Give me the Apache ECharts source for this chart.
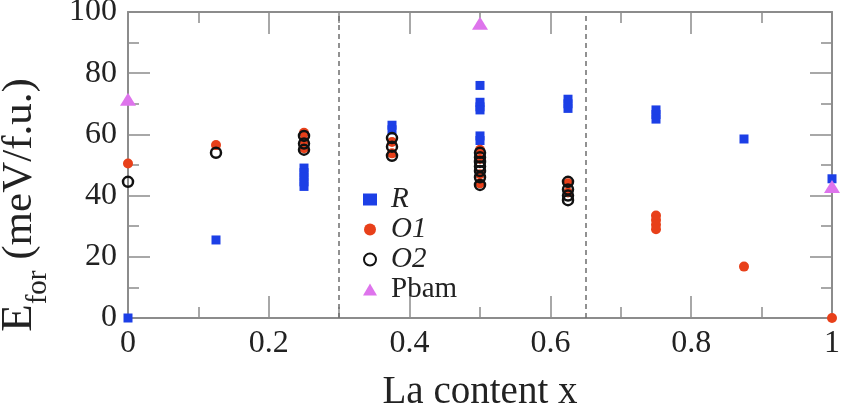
<!DOCTYPE html>
<html>
<head>
<meta charset="utf-8">
<style>
  html, body { margin: 0; padding: 0; background: #fff; }
  #chart { width: 842px; height: 412px; }
</style>
<script src="https://cdn.jsdelivr.net/npm/echarts@6/dist/echarts.min.js"></script>
</head>
<body>
<div id="chart"></div>
<script>
// Formation energies (meV per formula unit) versus La content x
const pointsR = [
  [0, 0], [0.125, 25.5],
  [0.25, 49], [0.25, 47.5], [0.25, 46], [0.25, 44.5], [0.25, 43],
  [0.375, 63], [0.375, 61.5],
  [0.5, 76], [0.5, 70.5], [0.5, 69], [0.5, 68], [0.5, 59.5], [0.5, 58],
  [0.625, 71.5], [0.625, 70], [0.625, 68.5],
  [0.75, 68], [0.75, 66.5], [0.75, 65],
  [0.875, 58.5], [1, 45.5]
];
const pointsO1 = [
  [0, 50.5], [0.125, 56.5],
  [0.25, 60.5], [0.25, 58], [0.25, 55.5],
  [0.375, 57.5], [0.375, 53.8],
  [0.5, 55], [0.5, 52], [0.5, 47], [0.5, 44],
  [0.625, 44], [0.625, 41],
  [0.75, 33.5], [0.75, 32], [0.75, 30.5], [0.75, 29],
  [0.875, 16.8], [1, 0]
];
const pointsO2 = [
  [0, 44.5], [0.125, 54],
  [0.25, 59.5], [0.25, 57], [0.25, 55],
  [0.375, 58.8], [0.375, 56], [0.375, 53],
  [0.5, 54], [0.5, 52.5], [0.5, 51], [0.5, 49.5], [0.5, 48], [0.5, 46], [0.5, 43.5],
  [0.625, 44.5], [0.625, 42], [0.625, 40], [0.625, 38.5]
];
const pointsPbam = [[0, 71.5], [0.5, 96.3], [1, 43]];
const seriesNames = ['R', 'O1', 'O2', 'Pbam'];
// phase boundaries shown as dashed verticals
const boundaries = [0.297, 0.648];

const serif = 'Liberation Serif';
const axisGray = '#8c8c8c';
const textColor = '#222';

const chart = echarts.init(document.getElementById('chart'));

function frameAxis(extra) {
  return Object.assign({
    type: 'value',
    axisLine: { show: true, onZero: false, lineStyle: { color: axisGray, width: 2 } },
    axisTick: { show: true, inside: true, length: 22, lineStyle: { color: axisGray, width: 1.5 } },
    minorTick: { show: true, splitNumber: 2, length: 11, lineStyle: { color: axisGray, width: 1.5 } },
    splitLine: { show: false },
    minorSplitLine: { show: false }
  }, extra);
}

chart.setOption({
  animation: false,
  backgroundColor: '#fff',
  grid: { left: 128, right: 10, top: 12, bottom: 94, outerBoundsMode: 'none', containLabel: false },
  xAxis: [
    frameAxis({
      min: 0, max: 1, interval: 0.2, position: 'bottom',
      axisLabel: {
        fontFamily: serif, fontSize: 32, color: textColor, margin: 10,
        formatter: v => String(Math.round(v * 10) / 10)
      },
      name: 'La content x', nameLocation: 'middle', nameGap: 55,
      nameTextStyle: { fontFamily: serif, fontSize: 39, color: textColor }
    }),
    frameAxis({
      min: 0, max: 1, interval: 0.2, position: 'top',
      axisLabel: { show: false }
    })
  ],
  yAxis: [
    frameAxis({
      min: 0, max: 100, interval: 20, position: 'left',
      axisLabel: { fontFamily: serif, fontSize: 32, color: textColor, margin: 11 },
      name: '{e|E}{sub|for}{u| (meV/f.u.)}',
      nameLocation: 'middle', nameRotate: 90, nameGap: 75,
      nameTextStyle: {
        fontFamily: serif, color: textColor, padding: [0, 80, 0, 0],
        rich: {
          e: { fontFamily: serif, fontSize: 45, color: textColor },
          sub: { fontFamily: serif, fontSize: 29, color: textColor, padding: [38, 0, 0, 0] },
          u: { fontFamily: serif, fontSize: 43, color: textColor }
        }
      }
    }),
    frameAxis({
      min: 0, max: 100, interval: 20, position: 'right',
      axisLabel: { show: false }
    })
  ],
  legend: {
    orient: 'vertical',
    left: 358, top: 180,
    itemWidth: 14, itemHeight: 12, itemGap: 1,
    data: seriesNames,
    formatter: name => name === 'Pbam' ? name : '{i|' + name + '}',
    textStyle: {
      fontFamily: serif, fontSize: 29, color: textColor, padding: [0, 0, 0, 9],
      rich: { i: { fontFamily: serif, fontSize: 29, fontStyle: 'italic', color: textColor } }
    }
  },
  series: [
    {
      name: 'R', type: 'scatter', data: pointsR,
      symbol: 'rect', symbolSize: 9,
      itemStyle: { color: '#1c3fe6', opacity: 1 },
      markLine: {
        silent: true, symbol: 'none', animation: false,
        label: { show: false },
        lineStyle: { color: '#6e6e6e', type: [5, 4], width: 1.5 },
        data: boundaries.map(b => ({ xAxis: b }))
      }
    },
    {
      name: 'O1', type: 'scatter', data: pointsO1,
      symbol: 'circle', symbolSize: 10,
      itemStyle: { color: '#e8401a', opacity: 1 }
    },
    {
      name: 'O2', type: 'scatter', data: pointsO2,
      symbol: 'circle', symbolSize: 10,
      itemStyle: { color: 'rgba(0,0,0,0)', borderColor: '#111', borderWidth: 2.5, opacity: 1 }
    },
    {
      name: 'Pbam', type: 'scatter', data: pointsPbam,
      symbol: 'triangle', symbolSize: [16, 13],
      itemStyle: { color: '#de74ec', opacity: 1 }
    }
  ]
});
</script>
</body>
</html>
